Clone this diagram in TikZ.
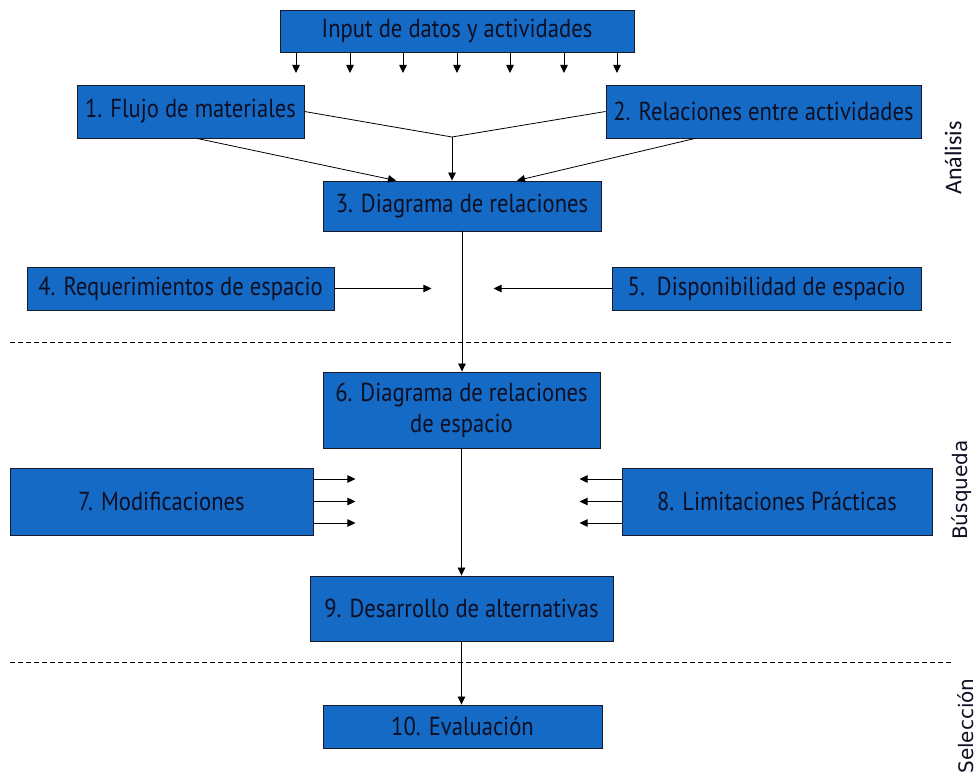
\documentclass[tikz,border=0pt]{standalone}
\usepackage{fontspec}
\setmainfont[FakeStretch=0.87]{PT Sans}
\newfontfamily\sidefont{DejaVu Sans}
\newfontfamily\topfont{Carlito}
\usetikzlibrary{arrows.meta,calc}
\definecolor{boxblue}{RGB}{20,106,197}
\definecolor{edge}{RGB}{25,25,40}
\definecolor{ink}{RGB}{15,15,35}
\tikzset{
  box/.style={draw=edge, line width=0.9pt, fill=boxblue, rectangle, inner sep=0pt,
    align=center, font=\fontsize{26}{31}\selectfont, text=ink},
  arr/.style={-{Triangle[length=8pt,width=7.5pt]}, line width=0.8pt},
  conn/.style={line width=0.8pt},
  sep/.style={line width=0.7pt, dash pattern=on 5pt off 3pt},
  side/.style={rotate=90, text=ink, font=\sidefont\fontsize{20}{22}\selectfont}
}
\begin{document}
\begin{tikzpicture}[x=1pt, y=-1pt]
\useasboundingbox (0,0) rectangle (978,773);

% process boxes
\node[box, minimum width=354pt, minimum height=42pt] (in) at (457,31) {Input de datos y actividades};
\node[box, minimum width=227pt, minimum height=53pt] (b1) at (190.5,111.5) {1. Flujo de materiales};
\node[box, minimum width=315pt, minimum height=53pt] (b2) at (763.5,111.5) {2. Relaciones entre actividades};
\node[box, minimum width=278pt, minimum height=50pt] (b3) at (462,206) {3. Diagrama de relaciones};
\node[box, minimum width=307pt, minimum height=43pt] (b4) at (180.5,288.5) {4. Requerimientos de espacio};
\node[box, minimum width=309pt, minimum height=43pt] (b5) at (766.5,288.5) {5.\ \ Disponibilidad de espacio};
\node[box, minimum width=277pt, minimum height=76pt] (b6) at (461.5,410) {6. Diagrama de relaciones\\de espacio};
\node[box, minimum width=303pt, minimum height=67pt] (b7) at (161.5,501.5) {7. Modificaciones};
\node[box, minimum width=310pt, minimum height=67pt] (b8) at (777,501.5) {8. Limitaciones Prácticas};
\node[box, minimum width=303pt, minimum height=65pt] (b9) at (461.5,608.5) {9. Desarrollo de alternativas};
\node[box, minimum width=279pt, minimum height=43pt] (b10) at (462.5,726.5) {10. Evaluación};

% inputs fanning out of the top box
\foreach \x [count=\i] in {296,350,403,457,510,564,617}{
  \coordinate (t\i) at (\x,73);
  \draw[arr] (in.south -| t\i) -- (t\i);
}

% analysis stage
\coordinate (j) at (452,137);
\draw[conn] (b1.east) -- (j) -- (b2.west);
\draw[arr] (j) -- (b3.north -| j);
\draw[arr] ([xshift=6.5pt]b1.south) -- ([xshift=-66pt]b3.north);
\draw[arr] ([xshift=-68.5pt]b2.south) -- ([xshift=55pt]b3.north);
\draw[arr] (b3.south) -- (b6.north -| b3.south);
\draw[arr] (b4.east) -- ++(97,0);
\draw[arr] (b5.west) -- ++(-118,0);

% search stage
\foreach \s in {22.5,0,-21.5}{
  \draw[arr] ([yshift=\s pt]b7.east) -- ++(42,0);
  \draw[arr] ([yshift=\s pt]b8.west) -- ++(-42,0);
}
\draw[arr] (b6.south) -- (b9.north -| b6.south);

% selection stage
\draw[arr] (b9.south) -- (b10.north -| b9.south);

% stage separators
\draw[sep] (10,342) -- (952,342);
\draw[sep] (10,662) -- (952,662);

% stage labels
\node[side, font=\topfont\fontsize{24}{26}\selectfont] (la) at (953,158) {Análisis};
\node[side] (lb) at (962,490) {Búsqueda};
\node[side] (lc) at (966,726) {Selección};
\end{tikzpicture}
\end{document}
